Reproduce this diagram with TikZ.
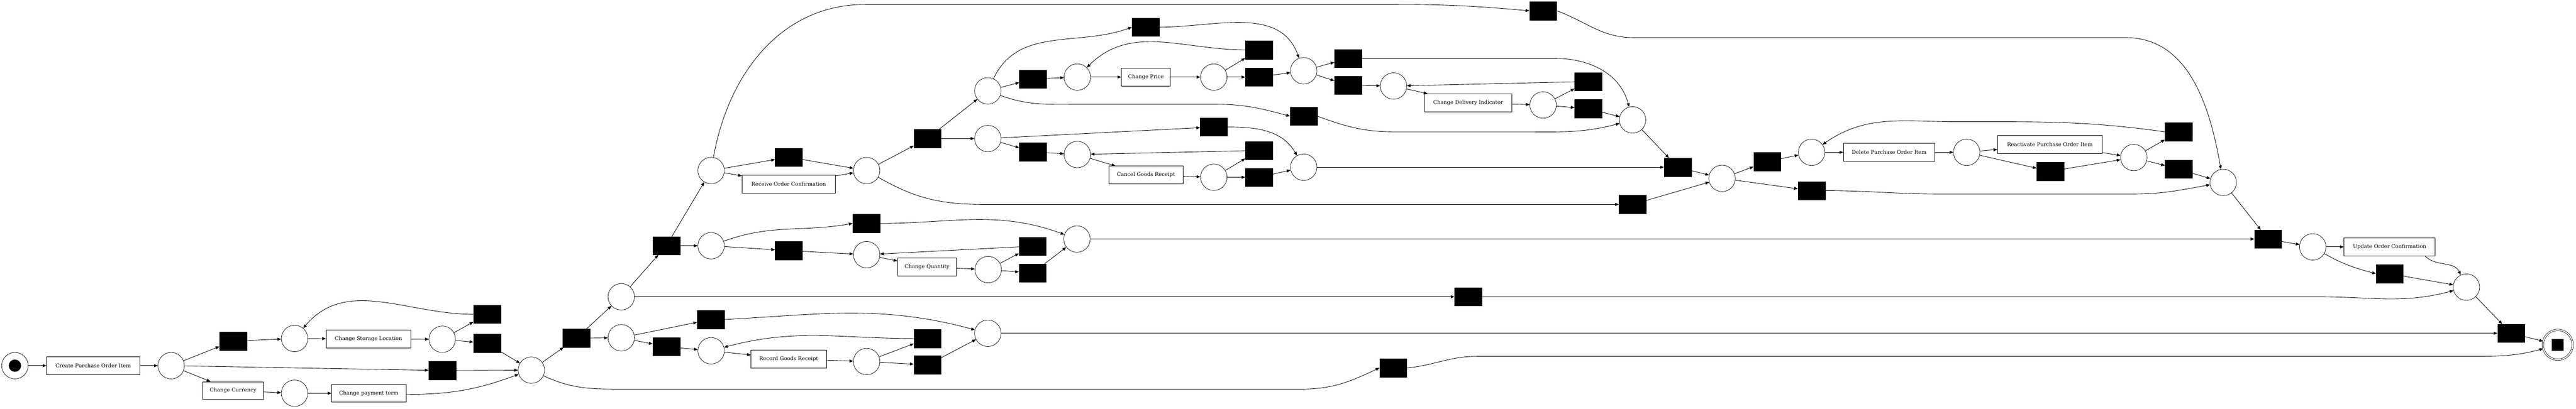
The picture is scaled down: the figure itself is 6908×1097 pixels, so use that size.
\documentclass[tikz,border=0pt]{standalone}
\usepackage{fontspec}
\setmainfont{DejaVu Serif}
\usetikzlibrary{arrows.meta}

\begin{document}
\begin{tikzpicture}[x=1pt,y=-1pt,>={Triangle[length=10pt,width=8pt]},
  pnplace/.style={circle,draw,line width=1pt,minimum size=71pt,inner sep=0pt},
  pntrans/.style={rectangle,fill=black,draw=black,minimum width=73pt,minimum height=49pt,inner sep=0pt},
  pntask/.style={rectangle,draw,line width=1pt,minimum height=48pt,inner sep=0pt,font=\fontsize{14}{16}\selectfont},
  flow/.style={->,line width=1.2pt}]
\useasboundingbox (0,0) rectangle (6908,1097);

\node[pnplace] (S) at (40,982) {};
\node[circle,fill=black,minimum size=33pt,inner sep=0pt] (Stok) at (S) {};
\node[pnplace,double,double distance=3pt,minimum size=80pt] (F) at (6859,926) {};
\node[fill=black,minimum size=32pt,inner sep=0pt] (Ftok) at (F) {};

\foreach \n/\x/\y in {P1/459/982,P2/790/909,P3/1186/911,P4/790/1056,P5/1425/994,
    P6/1666/797,P7/1666/907,P8/1907/942,P9/2324/971,P10/2649/895,P11/1907/660,
    P12/2324/684,P13/2650/724,P14/2888/642,P15/1907/458,P16/2324/458,P17/2649/244,
    P18/2649/372,P19/2889/207,P20/2889/415,P21/3255/207,P22/3496/190,P23/3737/231,
    P24/4138/282,P25/4378/322,P26/3496/449,P27/3255/476,P28/4618/479,P29/4858/409,
    P30/5274/409,P31/5722/423,P32/5962/490,P33/6202/663,P34/6614/771}
  \node[pnplace] (\n) at (\x,\y) {};

\foreach \n/\x/\y in {T1/625/916,T2/1306/844,T3/1306/922,T4/1186/995,T5/1546/908,
    T6/1906/858,T7/1787/931,T8/2487/909,T9/2487/980,T10/1787/660,T11/2323/600,
    T12/2115/673,T13/2115/422,T14/2487/372,T15/3072/73,T16/2770/212,T17/2770/408,
    T18/4138/29,T19/3496/312,T20/3255/341,T21/3376/134,T22/3376/207,T23/3615/157,
    T24/3615/229,T25/4259/219,T26/4259/292,T27/3376/404,T28/3376/476,T29/4499/449,
    T30/4378/549,T31/4739/434,T32/4858/512,T33/5498/460,T34/5842/354,T35/5842/454,
    T36/6082/642,T37/6408/735,T38/3937/797,T39/2769/661,T40/2769/733,T41/6734/895,
    T42/3736/988}
  \node[pntrans] (\n) at (\x,\y) {};

\foreach \n/\x/\y/\w/\lbl in {CPOI/250/982/250/Create Purchase Order Item,
    CSL/988/910/227/Change Storage Location,CC/625/1049/162/Change Currency,
    CPT/989/1056/199/Change payment term,ROC/2115/494/250/Receive Order Confirmation,
    CQ/2486/717/158/Change Quantity,RGR/2115/964/202/Record Goods Receipt,
    CP/3073/207/131/Change Price,CGR/3073/470/199/Cancel Goods Receipt,
    CDI/3937/276/234/Change Delivery Indicator,DPOI/5066/409/245/Delete Purchase Order Item,
    RPOI/5497/388/281/Reactivate Purchase Order Item,UOC/6408/663/245/Update Order Confirmation}
  \node[pntask,minimum width=\w pt] (\n) at (\x,\y) {\lbl};

\path[flow]
  (S) edge (CPOI) (CPOI) edge (P1)
  (P1) edge (T1) (P1) edge (T4) (P1) edge (CC)
  (T1) edge (P2) (P2) edge (CSL) (CSL) edge (P3)
  (P3) edge (T2) (P3) edge (T3)
  (T2.west) edge[out=180,in=50] (P2)
  (T3) edge (P5) (T4) edge (P5)
  (CC) edge (P4) (P4) edge (CPT) (CPT) edge[bend right=10] (P5)
  (P5) edge (T5) (T5) edge (P6) (T5) edge (P7)
  (P6) edge (T10) (P6) edge (T38)
  (P7) edge (T6) (P7) edge (T7)
  (T7) edge (P8) (P8) edge (RGR) (RGR) edge (P9)
  (P9) edge (T8) (P9) edge (T9) (T9) edge (P10)
  (T8.west) edge[out=180,in=15] (P8)
  (T6.east) edge[out=3,in=165] (P10)
  (P10) edge (T41)
  (T10) edge (P11) (T10) edge (P15)
  (P11) edge[out=20,in=190] (T11.west) (P11) edge (T12)
  (T12) edge (P12) (P12) edge (CQ) (CQ) edge (P13)
  (P13) edge (T39) (P13) edge (T40) (T39) edge (P12) (T40) edge (P14)
  (T11.east) edge[out=0,in=160] (P14)
  (P14) edge (T36)
  (P15) edge (T13) (P15) edge (ROC) (T13) edge (P16) (ROC) edge (P16)
  (P16) edge (T14) (T14) edge (P17) (T14) edge (P18)
  (P17) edge[out=65,in=200] (T15.west)
  (P17) edge (T16) (T16) edge (P19) (P19) edge (CP) (CP) edge (P21)
  (P21) edge (T21) (P21) edge (T22) (T22) edge (P22)
  (T21.west) edge[out=180,in=45] (P19)
  (T15.east) edge[out=0,in=110] (P22)
  (P22) edge (T23) (P22) edge (T24) (T24) edge (P23) (P23) edge (CDI) (CDI) edge (P24)
  (P24) edge (T25) (P24) edge (T26) (T25) edge (P23) (T26) edge (P25)
  (P18) edge (T17) (T17) edge (P20) (P20) edge (CGR) (CGR) edge (P27)
  (P27) edge (T27) (P27) edge (T28) (T27) edge (P20) (T28) edge (P26)
  (P18) edge (T20) (T20.east) edge[out=0,in=120] (P26)
  (P26) edge (T29) (P25) edge (T29) (T29) edge (P28) (T30) edge (P28)
  (P28) edge (T31) (P28) edge (T32) (T31) edge (P29)
  (P29) edge (DPOI) (DPOI) edge (P30) (P30) edge (RPOI) (P30) edge (T33)
  (RPOI) edge (P31) (T33) edge (P31) (P31) edge (T34) (P31) edge (T35) (T35) edge (P32)
  (P32) edge (T36) (T36) edge (P33) (P33) edge (UOC)
  (P33) edge[out=-30,in=165] (T37.west)
  ([xshift=-28pt]UOC.south east) edge[out=-45,in=115] (P34)
  (T37) edge (P34) (P34) edge (T41) (T41) edge (F);

% long bends
\draw[flow] (P5) to[out=-25,in=180] (1660,1045) -- (3490,1045) to[out=0,in=205] (T42.west);
\draw[flow] (T42.east) to[out=5,in=180] (3960,957) -- (6620,957) to[out=0,in=195] (F);
\draw[flow] (P15) to[out=80,in=180] (2320,12) -- (3750,12) to[out=0,in=175] (T18.west);
\draw[flow] (T18.east) to[out=-20,in=180] (4380,101) -- (5700,101) to[out=0,in=100] (P32);
\draw[flow] (P16) to[out=-30,in=180] (2640,549) -- (T30.west);
\draw[flow] (P17) to[out=-20,in=180] (2880,280) -- (3260,280) to[out=0,in=165] (T19.west);
\draw[flow] (T19.east) to[out=-20,in=180] (3740,354) -- (4080,354) to[out=0,in=195] (P25);
\draw[flow] (T23.east) -- (4170,157) to[out=0,in=105] (P25);
\draw[flow] (T34.west) to[out=172,in=0] (5250,327) to[out=180,in=35] (P29);
\draw[flow] (T32.east) to[out=0,in=180] (5200,521) -- (5720,521) to[out=0,in=190] (P32);
\draw[flow] (T38.east) -- (6220,797) to[out=0,in=195] (P34);
\end{tikzpicture}
\end{document}
